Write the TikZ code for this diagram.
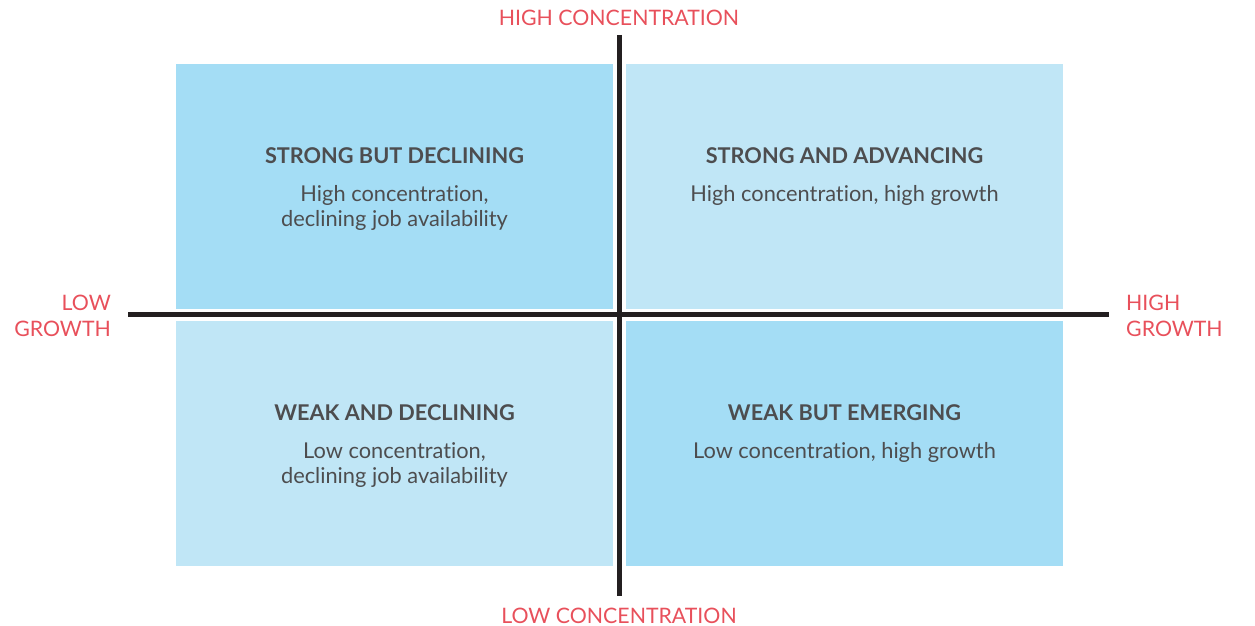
\documentclass[tikz,border=0pt]{standalone}
\usepackage{fontspec}
\setmainfont[Ligatures={NoCommon,NoRare}]{Lato}
\definecolor{qdark}{HTML}{A4DDF5}
\definecolor{qlight}{HTML}{C0E6F6}
\definecolor{axisred}{HTML}{E8505B}
\definecolor{txtgray}{HTML}{4D4D4F}
\definecolor{axisline}{HTML}{231F20}
\begin{document}
\begin{tikzpicture}[x=1pt,y=-1pt,
  quad/.style={draw=none,minimum width=437pt,minimum height=245pt,inner sep=0pt,anchor=north west},
  head/.style={font=\fontsize{21.7}{24}\selectfont\bfseries,text=txtgray,inner sep=0pt},
  body/.style={font=\fontsize{21.8}{25.5}\selectfont,text=txtgray,align=center,inner sep=0pt},
  axlab/.style={font=\fontsize{21.3}{26}\selectfont,text=axisred,inner sep=0pt},
  axis/.style={draw=axisline,line width=5pt}]
\useasboundingbox (0,0) rectangle (1255,626);
% quadrants
\node[quad,fill=qdark]  (tl) at (176,64) {};
\node[quad,fill=qlight] (tr) at (626,64) {};
\node[quad,fill=qlight] (bl) at (176,321) {};
\node[quad,fill=qdark]  (br) at (626,321) {};
% axes
\coordinate (vt) at (619.5,35);
\coordinate (vb) at (619.5,596);
\coordinate (hl) at (128,314.5);
\coordinate (hr) at (1109,314.5);
\draw[axis] (vt) -- (vb);
\draw[axis] (hl) -- (hr);
% axis labels
\node[axlab] (hc) at (619,17.5) {HIGH CONCENTRATION};
\node[axlab] (lc) at (619,615.5) {LOW CONCENTRATION};
\node[axlab,align=right,anchor=east] (lg) at (111,316) {LOW\\GROWTH};
\node[axlab,align=left,anchor=west] (hg) at (1126,316) {HIGH\\GROWTH};
% quadrant texts
\node[head] (tlh) at (394.5,156) {STRONG BUT DECLINING};
\node[body,anchor=north] (tlb) at (394.5,185) {High concentration,\\declining job availability};
\node[head] (trh) at (844.5,156) {STRONG AND ADVANCING};
\node[body,anchor=north] (trb) at (844.5,185) {High concentration, high growth};
\node[head] (blh) at (394.5,413) {WEAK AND DECLINING};
\node[body,anchor=north] (blb) at (394.5,442) {Low concentration,\\declining job availability};
\node[head] (brh) at (844.5,413) {WEAK BUT EMERGING};
\node[body,anchor=north] (brb) at (844.5,442) {Low concentration, high growth};
\end{tikzpicture}
\end{document}
